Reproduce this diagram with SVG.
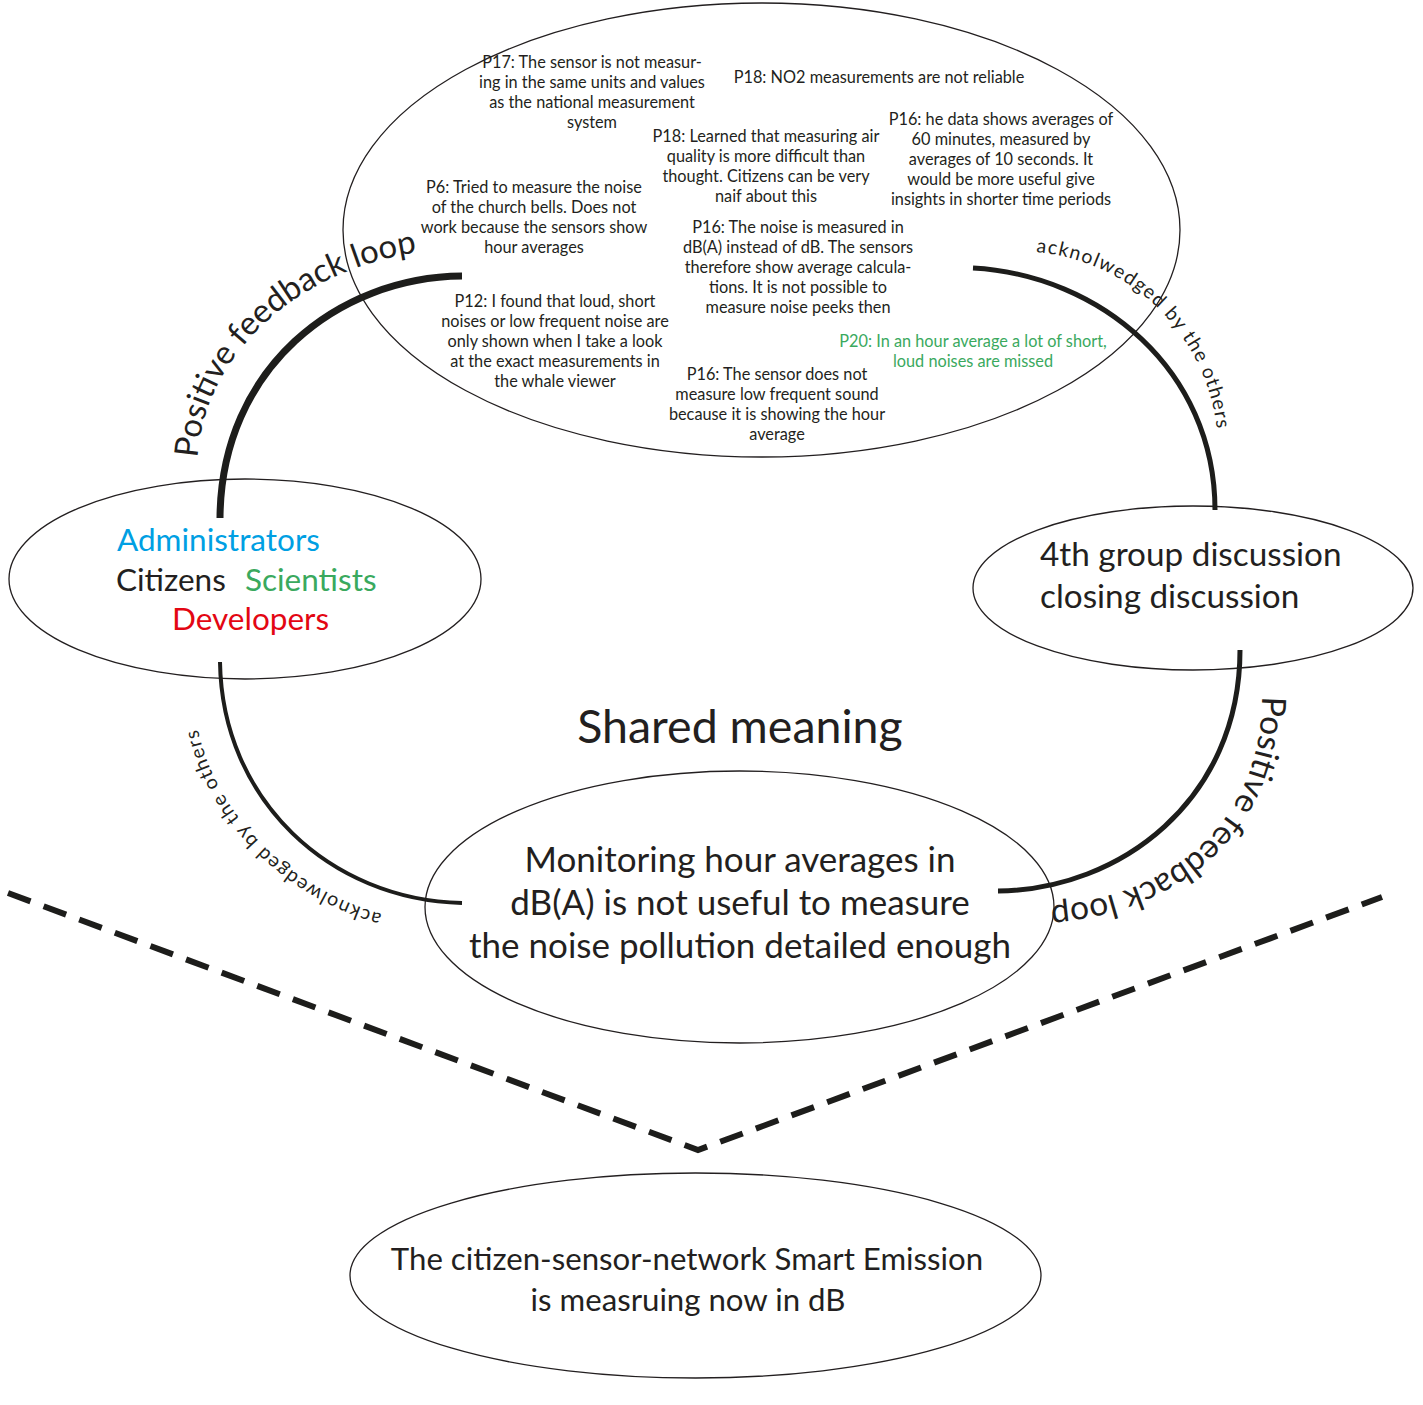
<svg xmlns="http://www.w3.org/2000/svg" xmlns:xlink="http://www.w3.org/1999/xlink" width="1423" height="1405" viewBox="0 0 1423 1405">
  <style>
    text { font-family: Lato, "Open Sans", "Liberation Sans", sans-serif; fill: #231f20; }
    .node { fill: #ffffff; stroke: #231f20; stroke-width: 1.3; }
    .note { font-size: 16.3px; text-anchor: middle; }
    .big { font-size: 31.5px; }
    .arc { fill: none; stroke: #1d1d1b; }
    .dash { fill: none; stroke: #1d1d1b; stroke-width: 6; stroke-dasharray: 24 14; }
    .curvelabel { font-size: 33.5px; }
    .smallcurve { font-size: 19.5px; letter-spacing: 1.3px; }
  </style>
  <defs>
    <path id="pathTopLeft" d="M197,468 C199,345 318,253 455,249"/>
    <path id="pathTopRight" d="M1036,252 C1140,262 1212,345 1218,440"/>
    <path id="pathBottomRight" d="M1262,696 C1262,830 1160,904 1030,907"/>
    <path id="pathBottomLeft" d="M382,914 C300,892 214,822 196,720"/>
  </defs>

  <rect width="1423" height="1405" fill="#ffffff"/>

  <!-- observations gathered during the discussion -->
  <g id="node-observations">
    <ellipse class="node" cx="761.5" cy="230" rx="418.5" ry="227"/>
    <text class="note" x="592" y="68">P17: The sensor is not measur-</text>
    <text class="note" x="592" y="88">ing in the same units and values</text>
    <text class="note" x="592" y="108">as the national measurement</text>
    <text class="note" x="592" y="128">system</text>

    <text class="note" x="879" y="83">P18: NO2 measurements are not reliable</text>

    <text class="note" x="1001" y="125">P16: he data shows averages of</text>
    <text class="note" x="1001" y="145">60 minutes, measured by</text>
    <text class="note" x="1001" y="165">averages of 10 seconds. It</text>
    <text class="note" x="1001" y="185">would be more useful give</text>
    <text class="note" x="1001" y="205">insights in shorter time periods</text>

    <text class="note" x="766" y="142">P18: Learned that measuring air</text>
    <text class="note" x="766" y="162">quality is more difficult than</text>
    <text class="note" x="766" y="182">thought. Citizens can be very</text>
    <text class="note" x="766" y="202">naif about this</text>

    <text class="note" x="534" y="193">P6: Tried to measure the noise</text>
    <text class="note" x="534" y="213">of the church bells. Does not</text>
    <text class="note" x="534" y="233">work because the sensors show</text>
    <text class="note" x="534" y="253">hour averages</text>

    <text class="note" x="798" y="233">P16: The noise is measured in</text>
    <text class="note" x="798" y="253">dB(A) instead of dB. The sensors</text>
    <text class="note" x="798" y="273">therefore show average calcula-</text>
    <text class="note" x="798" y="293">tions. It is not possible to</text>
    <text class="note" x="798" y="313">measure noise peeks then</text>

    <text class="note" x="555" y="307">P12: I found that loud, short</text>
    <text class="note" x="555" y="327">noises or low frequent noise are</text>
    <text class="note" x="555" y="347">only shown when I take a look</text>
    <text class="note" x="555" y="367">at the exact measurements in</text>
    <text class="note" x="555" y="387">the whale viewer</text>

    <text class="note" x="973" y="347" style="fill:#3aa95e">P20: In an hour average a lot of short,</text>
    <text class="note" x="973" y="367" style="fill:#3aa95e">loud noises are missed</text>

    <text class="note" x="777" y="380">P16: The sensor does not</text>
    <text class="note" x="777" y="400">measure low frequent sound</text>
    <text class="note" x="777" y="420">because it is showing the hour</text>
    <text class="note" x="777" y="440">average</text>
  </g>

  <!-- participant groups -->
  <g id="node-participants">
    <ellipse class="node" cx="245" cy="579" rx="236" ry="100"/>
    <text class="big" x="117" y="551" style="fill:#009fe3">Administrators</text>
    <text class="big" x="116" y="591">Citizens</text>
    <text class="big" x="245" y="591" style="fill:#3aa95e">Scientists</text>
    <text class="big" x="172" y="630" style="fill:#e30613">Developers</text>
  </g>

  <!-- discussion session -->
  <g id="node-discussion">
    <ellipse class="node" cx="1193" cy="588" rx="220" ry="82"/>
    <text x="1040" y="566" style="font-size:33.3px">4th group discussion</text>
    <text x="1040" y="608" style="font-size:33.3px">closing discussion</text>
  </g>

  <g id="label-shared-meaning">
    <text x="740" y="743" style="font-size:46.5px;text-anchor:middle">Shared meaning</text>
  </g>

  <!-- shared conclusion -->
  <g id="node-conclusion">
    <ellipse class="node" cx="739.5" cy="907" rx="314.5" ry="136"/>
    <text x="740" y="872" style="font-size:35px;text-anchor:middle">Monitoring hour averages in</text>
    <text x="740" y="915" style="font-size:35px;text-anchor:middle">dB(A) is not useful to measure</text>
    <text x="740" y="958" style="font-size:35px;text-anchor:middle">the noise pollution detailed enough</text>
  </g>

  <!-- resulting change -->
  <g id="node-outcome">
    <ellipse class="node" cx="695.5" cy="1275.5" rx="345.5" ry="102.5"/>
    <text x="687" y="1270" style="font-size:31.2px;text-anchor:middle">The citizen-sensor-network Smart Emission</text>
    <text x="688" y="1311" style="font-size:31.2px;text-anchor:middle">is measruing now in dB</text>
  </g>

  <!-- feedback arcs and their labels -->
  <g id="connectors">
    <path class="arc" stroke-width="7" d="M462,276 C338,277 221,368 220,518"/>
    <path class="arc" stroke-width="5" d="M973,268 C1100,275 1215,370 1215,510"/>
    <path class="arc" stroke-width="5" d="M1240,650 C1240,800 1120,890 998,891"/>
    <path class="arc" stroke-width="4" d="M220,662 C222,800 330,900 462,903"/>

    <text class="curvelabel" style="font-size:32.8px"><textPath xlink:href="#pathTopLeft" href="#pathTopLeft" startOffset="10">Positive feedback loop</textPath></text>
    <text class="smallcurve"><textPath xlink:href="#pathTopRight" href="#pathTopRight">acknolwedged by the others</textPath></text>
    <text class="curvelabel"><textPath xlink:href="#pathBottomRight" href="#pathBottomRight">Positive feedback loop</textPath></text>
    <text class="smallcurve"><textPath xlink:href="#pathBottomLeft" href="#pathBottomLeft">acknolwedged by the others</textPath></text>

    <path class="dash" d="M8,893 L698,1150 L1382,897"/>
  </g>
</svg>
